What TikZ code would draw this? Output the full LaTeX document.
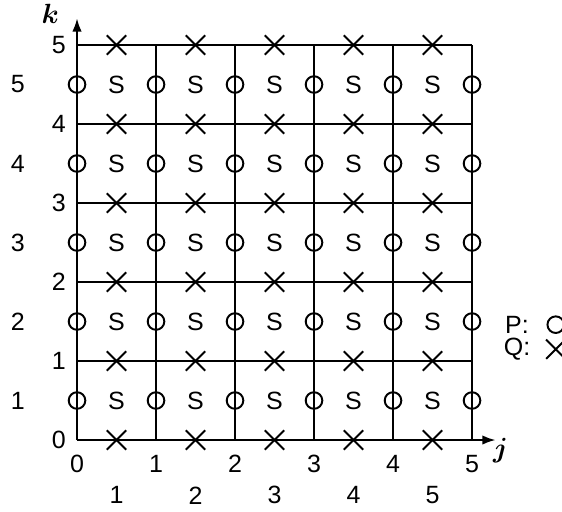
\documentclass[tikz,border=0pt]{standalone}
\usepackage{fontspec}
\setmainfont{Liberation Sans}
\usetikzlibrary{arrows.meta,shapes.misc}

\begin{document}
\begin{tikzpicture}
  [
  gridline/.style={line width=0.8pt},
  axis/.style={line width=0.8pt,-{Latex[length=1.7mm,width=1.2mm]}},
  pnode/.style={draw, circle, line width=0.7pt, minimum size=2.1mm, inner sep=0pt},
  qnode/.style={draw, cross out, line width=0.7pt, minimum size=2.2mm, inner sep=0pt},
  lbl/.style={inner sep=1pt, font=\fontsize{9}{10}\selectfont}
  ]
  \useasboundingbox (-0.975,-0.911) rectangle (6.139,5.57);
  % cell walls
  \foreach \i in {1,...,5} {
    \draw[gridline] (\i,0) -- (\i,5);
    \draw[gridline] (0,\i) -- (5,\i);
  }
  \coordinate (o) at (0,0);
  \coordinate (jend) at (5.3,0);
  \coordinate (kend) at (0,5.34);
  \draw[axis] (o) -- (jend);
  \draw[axis] (o) -- (kend);
  \node[font=\boldmath] (klbl) at (-0.34,5.39) {$k$};
  \node[font=\boldmath] (jlbl) at (5.36,-0.14) {$j$};
  % P, S and Q points
  \foreach \k in {1,...,5} {
    \foreach \j in {0,...,5}
      \node[pnode] (p-\j-\k) at (\j,\k-0.5) {};
    \foreach \j in {1,...,5}
      \node[lbl] (s-\j-\k) at (\j-0.5,\k-0.5) {S};
    \node[lbl] (kc-\k) at (-0.75,\k-0.5) {\k};
  }
  \foreach \k in {0,...,5}
    \foreach \j in {1,...,5}
      \node[qnode] (q-\j-\k) at (\j-0.5,\k) {};
  % indices
  \foreach \i in {0,...,5} {
    \node[lbl] (jt-\i) at (\i,-0.30) {\i};
    \node[lbl] (kt-\i) at (-0.23,\i) {\i};
  }
  \foreach \j in {1,...,5}
    \node[lbl] (jc-\j) at (\j-0.5,-0.70) {\j};
  % legend
  \node[lbl] (plbl) at (5.57,1.46) {P:};
  \node[pnode] (psym) at (6.06,1.46) {};
  \node[lbl] (qlbl) at (5.57,1.15) {Q:};
  \node[qnode] (qsym) at (6.06,1.15) {};
\end{tikzpicture}
\end{document}
